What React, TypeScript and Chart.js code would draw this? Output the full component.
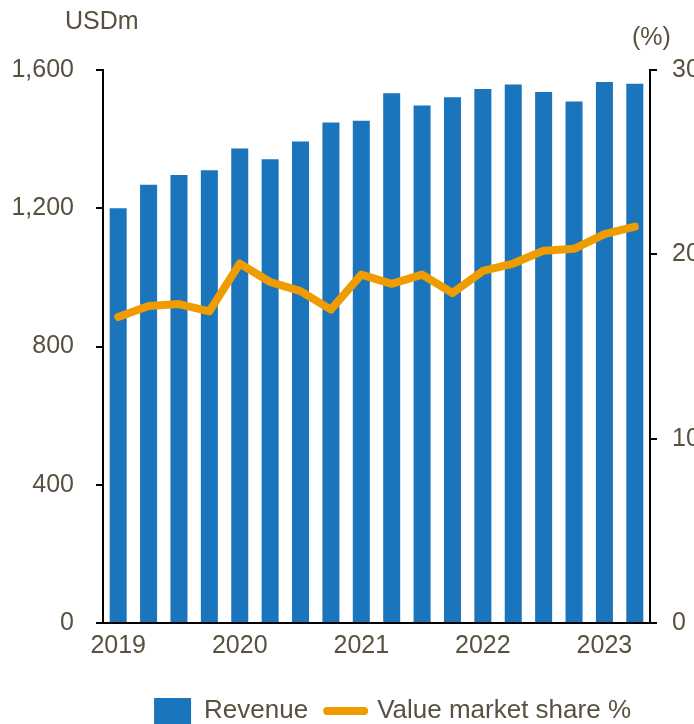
import React, { useEffect, useRef } from 'react';
import { Chart, registerables } from 'chart.js';

Chart.register(...registerables);

const quarters = [
  '2019 Q1', '2019 Q2', '2019 Q3', '2019 Q4',
  '2020 Q1', '2020 Q2', '2020 Q3', '2020 Q4',
  '2021 Q1', '2021 Q2', '2021 Q3', '2021 Q4',
  '2022 Q1', '2022 Q2', '2022 Q3', '2022 Q4',
  '2023 Q1', '2023 Q2',
];
const revenue = [1200, 1268, 1296, 1310, 1373, 1342, 1393, 1448, 1453, 1533, 1497, 1521, 1545, 1558, 1536, 1509, 1565, 1560];
const marketShare = [16.6, 17.2, 17.3, 16.9, 19.5, 18.5, 18.0, 17.0, 18.9, 18.4, 18.9, 17.9, 19.1, 19.5, 20.2, 20.3, 21.1, 21.5];
const leftAxis = { min: 0, max: 1600, step: 400, title: 'USDm' };
const rightAxis = { min: 0, max: 30, step: 10, title: '(%)' };
const seriesNames = ['Revenue', 'Value market share %'];

const BLUE = '#1B75BC';
const ORANGE = '#EF9C00';
const TEXT = '#595140';
const FONT = "'Liberation Sans', Arial, sans-serif";

export default function App() {
  const ref = useRef<HTMLCanvasElement | null>(null);

  useEffect(() => {
    document.body.style.overflow = 'hidden';
    const canvas = ref.current;
    if (!canvas) return;
    const chart = new Chart(canvas, {
      data: {
        labels: quarters,
        datasets: [
          {
            type: 'bar',
            label: seriesNames[0],
            data: revenue,
            backgroundColor: BLUE,
            borderWidth: 0,
            yAxisID: 'y',
            order: 1,
            categoryPercentage: 1,
            barPercentage: 0.56,
          },
          {
            type: 'line',
            label: seriesNames[1],
            data: marketShare,
            borderColor: ORANGE,
            backgroundColor: ORANGE,
            borderWidth: 8,
            borderCapStyle: 'round',
            borderJoinStyle: 'round',
            pointRadius: 0,
            tension: 0,
            yAxisID: 'y1',
            order: 0,
          },
        ],
      } as any,
      options: {
        responsive: false,
        animation: false,
        layout: { padding: { top: 70, left: 0, right: 0, bottom: 0 } },
        plugins: {
          tooltip: { enabled: false },
          legend: {
            position: 'bottom',
            align: 'end',
            fullSize: false,
            labels: {
              usePointStyle: true,
              pointStyleWidth: 37,
              boxHeight: 26,
              padding: 19,
              color: TEXT,
              font: { family: FONT, size: 26 },
              sort: (a: any, b: any) => a.datasetIndex - b.datasetIndex,
              generateLabels: (c: any) => {
                const items = Chart.defaults.plugins.legend.labels.generateLabels(c);
                return items.map((it: any) =>
                  it.datasetIndex === 1
                    ? { ...it, pointStyle: 'line', lineWidth: 8, strokeStyle: ORANGE, fillStyle: ORANGE, lineCap: 'round' }
                    : { ...it, pointStyle: 'rect', lineWidth: 0, fillStyle: BLUE, strokeStyle: BLUE }
                );
              },
            },
          },
        },
        scales: {
          x: {
            offset: true,
            grid: { display: false, drawTicks: false },
            border: { display: true, color: '#000', width: 2 },
            ticks: {
              autoSkip: false,
              maxRotation: 0,
              padding: 8,
              color: TEXT,
              font: { family: FONT, size: 25 },
              callback: (_v: any, i: number) => (quarters[i].endsWith('Q1') ? quarters[i].slice(0, 4) : ''),
            },
            afterFit: (s: any) => { s.height = 56; },
          },
          y: {
            position: 'left',
            min: leftAxis.min,
            max: leftAxis.max,
            grid: { display: true, drawOnChartArea: false, drawTicks: true, tickLength: 7, color: '#000', lineWidth: 2 },
            border: { display: true, color: '#000', width: 2 },
            ticks: {
              stepSize: leftAxis.step,
              padding: 22,
              color: TEXT,
              font: { family: FONT, size: 25 },
              callback: (v: any) => Number(v).toLocaleString('en-US'),
            },
            afterFit: (s: any) => { s.width = 103; },
          },
          y1: {
            position: 'right',
            min: rightAxis.min,
            max: rightAxis.max,
            grid: { display: true, drawOnChartArea: false, drawTicks: true, tickLength: 7, color: '#000', lineWidth: 2 },
            border: { display: true, color: '#000', width: 2 },
            ticks: {
              stepSize: rightAxis.step,
              padding: 15,
              color: TEXT,
              font: { family: FONT, size: 25 },
            },
            afterFit: (s: any) => { s.width = 70; },
          },
        },
      } as any,
    });
    return () => chart.destroy();
  }, []);

  const titleStyle: React.CSSProperties = {
    position: 'absolute',
    fontFamily: FONT,
    fontSize: 25,
    lineHeight: '30px',
    color: TEXT,
    whiteSpace: 'nowrap',
  };

  return (
    <div style={{ position: 'absolute', left: 0, top: 0, width: 720, height: 734 }}>
      <canvas ref={ref} width={720} height={734} style={{ display: 'block', width: 720, height: 734 }} />
      <div style={{ ...titleStyle, left: 65, top: 5 }}>{leftAxis.title}</div>
      <div style={{ ...titleStyle, left: 632, top: 21 }}>{rightAxis.title}</div>
    </div>
  );
}
